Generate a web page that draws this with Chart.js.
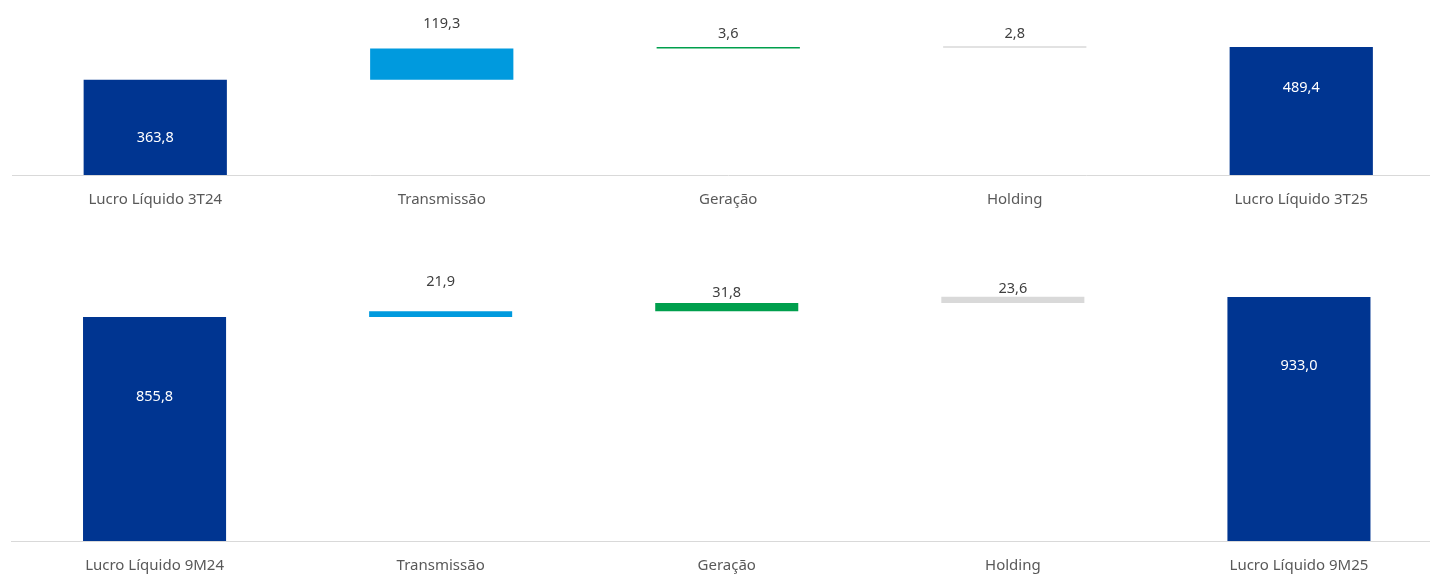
<!DOCTYPE html>
<html>
  <head>
    <meta charset="utf-8">
    <title>Lucro Líquido - Waterfall</title>
    <script src="https://cdn.jsdelivr.net/npm/chart.js"></script>
    <style>
      body {
        margin: 0;
        width: 1430px;
        height: 574px;
        overflow: hidden;
        background: #ffffff;
        position: relative;
      }
      canvas {
        position: absolute;
        left: 0;
      }
      #chart3T { top: 0; }
      #chart9M { top: 230px; }
    </style>
  </head>
  <body>
    <canvas id="chart3T" width="1460" height="230"></canvas>
    <canvas id="chart9M" width="1460" height="344"></canvas>
    <script>
      // quarter
      const categories3T = ['Lucro Líquido 3T24', 'Transmissão', 'Geração', 'Holding', 'Lucro Líquido 3T25'];
      const values3T = [363.8, 119.3, 3.6, 2.8, 489.4];

      // nine months
      const categories9M = ['Lucro Líquido 9M24', 'Transmissão', 'Geração', 'Holding', 'Lucro Líquido 9M25'];
      const values9M = [855.8, 21.9, 31.8, 23.6, 933.0];

      const barColors = ['#003591', '#009ADE', '#009F4D', '#D9D9D9', '#003591'];

      // first and last are totals from zero, the rest float on the running sum
      function waterfall(values) {
        let running = 0;
        return values.map((v, i) => {
          if (i === 0 || i === values.length - 1) {
            running = v;
            return [0, v];
          }
          const start = running;
          running += v;
          return [start, running];
        });
      }

      const fmt = v => v.toFixed(1).replace('.', ',');

      // draws the value labels; offsets are pixels from the bar top (+ inside, - above)
      const valueLabels = {
        id: 'valueLabels',
        afterDatasetsDraw(chart, args, opts) {
          const ctx = chart.ctx;
          const meta = chart.getDatasetMeta(0);
          ctx.save();
          ctx.font = '14.5px "Noto Sans", sans-serif';
          ctx.textAlign = 'center';
          ctx.textBaseline = 'middle';
          meta.data.forEach((bar, i) => {
            const top = Math.min(bar.y, bar.base);
            const off = opts.offsets[i];
            ctx.fillStyle = off > 0 ? '#ffffff' : '#404040';
            ctx.fillText(fmt(opts.values[i]), bar.x, top + off);
          });
          ctx.restore();
        }
      };

      function makeChart(id, categories, values, yMax, padding, axisHeight, offsets) {
        return new Chart(document.getElementById(id), {
          type: 'bar',
          data: {
            labels: categories,
            datasets: [{
              data: waterfall(values),
              backgroundColor: barColors,
              borderWidth: 0,
              categoryPercentage: 1,
              barPercentage: 0.5,
              minBarLength: 1.5
            }]
          },
          options: {
            responsive: false,
            animation: false,
            layout: { padding: padding },
            scales: {
              x: {
                grid: { drawOnChartArea: false, drawTicks: false },
                border: { display: true, color: '#D9D9D9', width: 1 },
                ticks: {
                  color: '#595959',
                  padding: 16,
                  font: { family: '"Noto Sans", sans-serif', size: 15 }
                },
                afterFit: axis => { axis.height = axisHeight; }
              },
              y: { display: false, min: 0, max: yMax }
            },
            plugins: {
              legend: { display: false },
              tooltip: { enabled: false },
              valueLabels: { values: values, offsets: offsets }
            }
          },
          plugins: [valueLabels]
        });
      }

      makeChart('chart3T', categories3T, values3T, 600,
        { top: 18, left: 12, right: 15.5, bottom: 0 }, 55,
        [58, -25, -13, -12, 41]);

      makeChart('chart9M', categories9M, values9M, 1100,
        { top: 23.2, left: 11.5, right: 18, bottom: 0 }, 33,
        [80, -29, -10, -8, 69]);
    </script>
  </body>
</html>
